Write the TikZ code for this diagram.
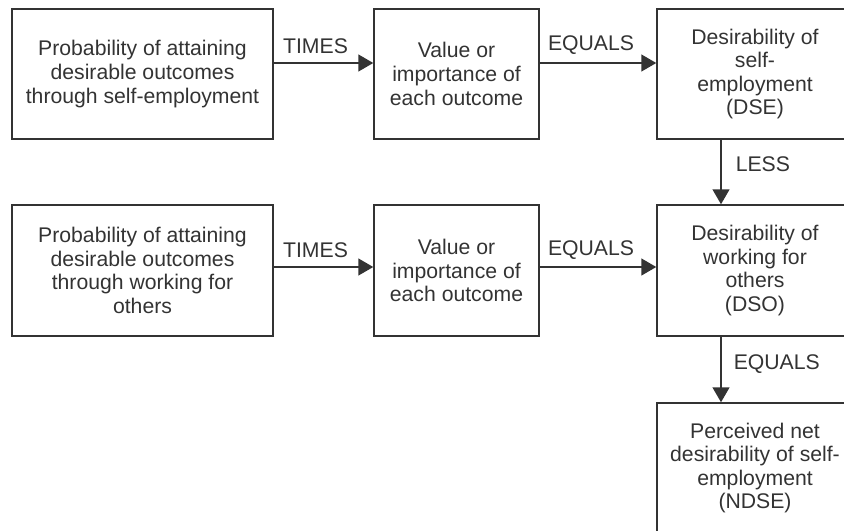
\documentclass[tikz,border=0pt]{standalone}
\usepackage{fontspec}
\setmainfont{Liberation Sans}
\usetikzlibrary{arrows.meta}
\definecolor{ink}{rgb}{0.2,0.2,0.2}
\begin{document}
\begin{tikzpicture}[x=0.5pt,y=-0.5pt,
  every node/.style={font=\fontsize{10.6}{11.8}\selectfont, text=ink},
  box/.style={draw=ink, line width=0.75pt, align=center, inner sep=0pt, minimum height=65pt},
  arr/.style={draw=ink, line width=0.75pt, -{Triangle[length=7.5pt,width=8.5pt]}},
  lab/.style={inner sep=0pt}]
\useasboundingbox (0,0) rectangle (844,530);
\clip (0,0) rectangle (844,530);
\node[box, minimum width=130.5pt] (b1) at (142.5,74) {Probability of attaining\\desirable outcomes\\through self-employment};
\node[box, minimum width=82.5pt] (b2) at (456.5,74) {Value or\\importance of\\each outcome};
\node[box, minimum width=98pt] (b3) at (755,74) {Desirability of\\self-\\employment\\(DSE)};
\node[box, minimum width=130.5pt, minimum height=65.5pt] (b4) at (142.5,270.5) {Probability of attaining\\desirable outcomes\\through working for\\others};
\node[box, minimum width=82.5pt, minimum height=65.5pt] (b5) at (456.5,270.5) {Value or\\importance of\\each outcome};
\node[box, minimum width=98pt, minimum height=65.5pt] (b6) at (755,270.5) {Desirability of\\working for\\others\\(DSO)};
\node[box, minimum width=98pt] (b7) at (755,468) {Perceived net\\desirability of self-\\employment\\(NDSE)};
\draw[arr] ([yshift=5.5pt]b1.east) -- node[lab, above=4.5pt, xshift=-4pt] {TIMES} ([yshift=5.5pt]b2.west);
\draw[arr] ([yshift=5.5pt]b2.east) -- node[lab, above=4pt, xshift=-3.5pt] {EQUALS} ([yshift=5.5pt]b3.west);
\draw[arr] ([yshift=1.75pt]b4.east) -- node[lab, above=4.5pt, xshift=-4pt] {TIMES} ([yshift=1.75pt]b5.west);
\draw[arr] ([yshift=1.75pt]b5.east) -- node[lab, above=3.5pt, xshift=-3.5pt] {EQUALS} ([yshift=1.75pt]b6.west);
\draw[arr] ([xshift=-17pt]b3.south) -- node[lab, right=7pt, pos=0.38] {LESS} ([xshift=-17pt]b6.north);
\draw[arr] ([xshift=-17pt]b6.south) -- node[lab, right=6pt, pos=0.42] {EQUALS} ([xshift=-17pt]b7.north);
\end{tikzpicture}
\end{document}
